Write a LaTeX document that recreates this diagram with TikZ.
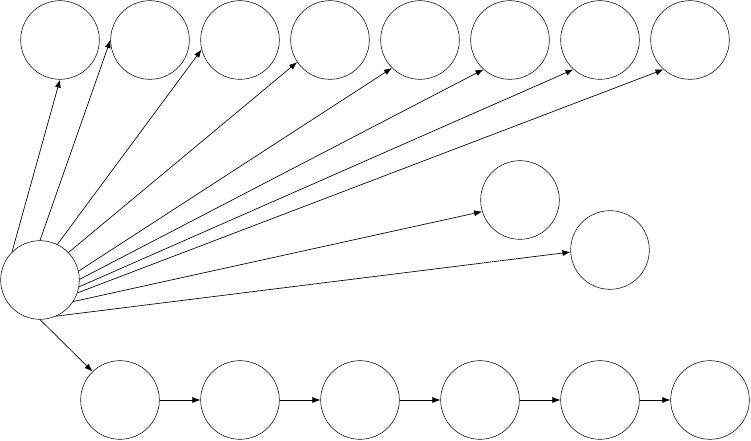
\documentclass[tikz,border=0pt]{standalone}
\usetikzlibrary{arrows.meta}
\tikzset{
	vertex/.style={draw,circle,minimum size=59pt,inner sep=0pt},
	edge/.style={-{Latex[length=6pt,width=4.5pt]},line width=0.5pt}
}
\begin{document}
\begin{tikzpicture}[x=0.75pt,y=0.75pt,yscale=-1,xscale=1]
		\useasboundingbox (0,0) rectangle (751,441);
		
		%source circle
		\node [vertex] (src) at (40,280) {};
		
		%top row
		\foreach \i/\x/\a/\b in {1/60/135/-90,2/150/90/180,3/240/64/194,4/330/44/214,5/420/13/225,6/510/1/228,7/600/-10/228,8/690/-19/228}
		{
			\node [vertex] (t\i) at (\x,40) {};
			\draw [edge] (src.\a) -- (t\i.\b);
		}
		
		%middle pair
		\node [vertex] (m1) at (520,200) {};
		\node [vertex] (m2) at (610,250) {};
		\draw [edge] (src.-33) -- (m1.197);
		\draw [edge] (src.-66) -- (m2.183);
		
		%bottom chain
		\foreach \i/\x in {1/120,2/240,3/360,4/480,5/600,6/710}
		{
			\node [vertex] (b\i) at (\x,400) {};
		}
		\draw [edge] (src.south) -- (b1.134);
		\foreach \i [evaluate=\i as \j using int(\i+1)] in {1,...,5}
		{
			\draw [edge] (b\i) -- (b\j);
		}
		
\end{tikzpicture}
\end{document}
